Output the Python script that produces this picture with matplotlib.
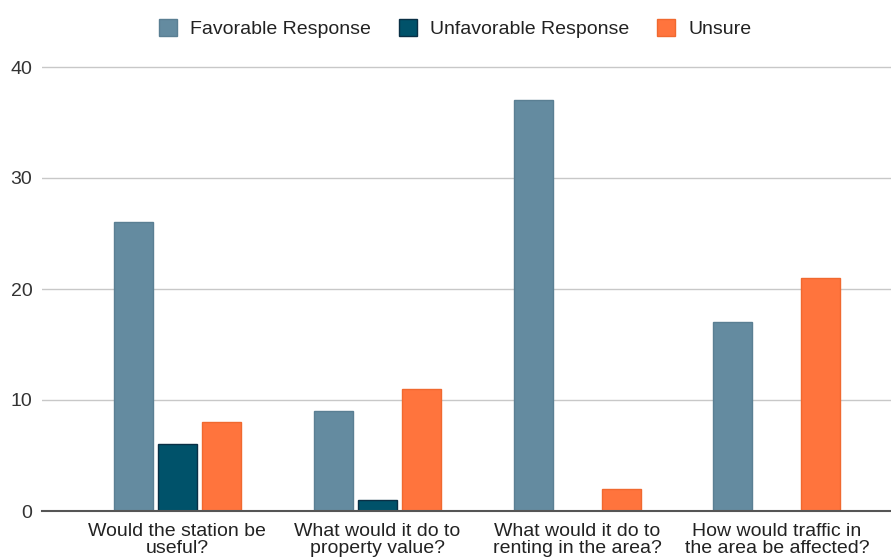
import matplotlib
matplotlib.use("Agg")
import matplotlib.pyplot as plt
import numpy as np

plt.rcParams['font.family'] = ['Liberation Sans', 'DejaVu Sans']

categories = [
    "Would the station be\nuseful?",
    "What would it do to\nproperty value?",
    "What would it do to\nrenting in the area?",
    "How would traffic in\nthe area be affected?",
]
favorable = [26, 9, 37, 17]
unfavorable = [6, 1, 0, 0]
unsure = [8, 11, 2, 21]
series_names = ["Favorable Response", "Unfavorable Response", "Unsure"]
yticks = [0, 10, 20, 30, 40]

fills = ["#648ba0", "#00526a", "#ff743d"]
edges = ["#5a7f93", "#0a2f45", "#f0692f"]

fig = plt.figure(figsize=(8.91, 5.58), dpi=100)
ax = fig.add_axes([42 / 891, 1 - 511 / 558, 849 / 891, 444 / 558 * 45 / 40])

x = np.arange(len(categories))
width = 0.195
offsets = [-0.22, 0.0, 0.22]
for vals, off, fc, ec, name in zip([favorable, unfavorable, unsure], offsets, fills, edges, series_names):
    ax.bar(x + off, vals, width, color=fc, edgecolor=ec, linewidth=1.0, label=name, zorder=3)

ax.set_xlim(-0.675, 3.57)
ax.set_ylim(0, 45)
ax.set_yticks(yticks)
ax.set_yticklabels([str(t) for t in yticks], fontsize=14, color="#333333")
ax.yaxis.grid(True, color="#c8c8c8", linewidth=1.0, zorder=0)
ax.set_axisbelow(True)
ax.tick_params(axis='y', length=0, pad=7)
ax.tick_params(axis='x', length=0, pad=9)
ax.set_xticks(x)
ax.set_xticklabels(categories, fontsize=14, color="#222222", linespacing=0.95)
for s in ["top", "right", "left"]:
    ax.spines[s].set_visible(False)
ax.spines["bottom"].set_color("#555555")
ax.spines["bottom"].set_linewidth(1.5)
ax.spines["bottom"].set_zorder(4)

leg = fig.legend(loc="center", bbox_to_anchor=(455 / 891, 1 - 28.5 / 558), ncol=3, frameon=False,
                 fontsize=14, handlelength=0.93, handleheight=0.93, columnspacing=1.44,
                 handletextpad=0.67)
for t in leg.get_texts():
    t.set_color("#222222")

fig.savefig("out.png", dpi=100)
